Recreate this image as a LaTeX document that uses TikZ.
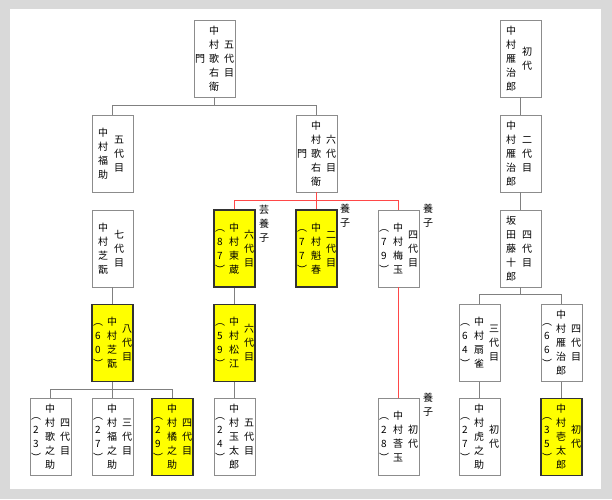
\documentclass[tikz,border=0pt]{standalone}
\usepackage{fontspec}
\setmainfont{Noto Sans CJK JP}
\newcommand\vcol[1]{\begin{tabular}{@{}c@{}}#1\end{tabular}}
\definecolor{bx}{HTML}{8C8C8C}
\definecolor{ln}{HTML}{808080}
\definecolor{rd}{HTML}{FF4848}
\definecolor{yl}{HTML}{FFFF00}
\tikzset{
 box/.style={draw=bx,line width=0.9pt,fill=white,minimum width=41pt,minimum height=77pt,inner sep=0pt},
 yb/.style={fill=yl,draw=black!80,line width=1.1pt},
 col/.style={inner sep=0pt,font=\fontsize{10}{14}\selectfont},
 lab/.style={inner sep=0pt,font=\fontsize{10}{14}\selectfont},
 gl/.style={draw=ln,line width=0.9pt},
 rl/.style={draw=rd,line width=0.9pt}}
\newcommand\famnode[7]{%
 \node[box,#4] (#1) at (#2,#3) {};
 \def\tmpp{#7}%
 \ifx\tmpp\empty
  \node[col] (#1n) at ([xshift=-9.5pt,yshift=-1pt]#1.center) {\vcol{#6}};
  \node[col] (#1t) at ([xshift=6.5pt,yshift=-1pt]#1.center) {\vcol{#5}};
 \else
  \node[col] (#1p) at ([xshift=-14.5pt,yshift=-1pt]#1.center) {\vcol{#7}};
  \node[col] (#1n) at ([xshift=-0.5pt,yshift=-1pt]#1.center) {\vcol{#6}};
  \node[col] (#1t) at ([xshift=14.5pt,yshift=-1pt]#1.center) {\vcol{#5}};
 \fi}
\begin{document}
\begin{tikzpicture}[x=1pt,y=-1pt]
\fill[black!15] (0,0) rectangle (612,499);
\fill[white] (10,9) rectangle (601,489);
\useasboundingbox (0,0) rectangle (612,499);
\def\ra{58.5}\def\rb{153.5}\def\rc{248.5}\def\rd{343}\def\re{437}
\famnode{t5}{214.5}{\ra}{}{五\\代\\目}{中\\村\\歌\\右\\衛}{門}
\famnode{g1}{520.5}{\ra}{}{初\\代}{中\\村\\雁\\治\\郎}{}
\famnode{f5}{112.5}{\rb}{}{五\\代\\目}{中\\村\\福\\助}{}
\famnode{u6}{316.5}{\rb}{}{六\\代\\目}{中\\村\\歌\\右\\衛}{門}
\famnode{g2}{520.5}{\rb}{}{二\\代\\目}{中\\村\\雁\\治\\郎}{}
\famnode{s7}{112.5}{\rc}{}{七\\代\\目}{中\\村\\芝\\翫}{}
\famnode{t6}{234.5}{\rc}{yb}{六\\代\\目}{中\\村\\東\\蔵}{︵\\8\\7\\︶}
\famnode{k2}{316.5}{\rc}{yb}{二\\代\\目}{中\\村\\魁\\春}{︵\\7\\7\\︶}
\famnode{b4}{398.5}{\rc}{}{四\\代\\目}{中\\村\\梅\\玉}{︵\\7\\9\\︶}
\famnode{tj}{520.5}{\rc}{}{四\\代\\目}{坂\\田\\藤\\十\\郎}{}
\famnode{s8}{112.5}{\rd}{yb}{八\\代\\目}{中\\村\\芝\\翫}{︵\\6\\0\\︶}
\famnode{m6}{234.5}{\rd}{yb}{六\\代\\目}{中\\村\\松\\江}{︵\\5\\9\\︶}
\famnode{se}{479.5}{\rd}{}{三\\代\\目}{中\\村\\扇\\雀}{︵\\6\\4\\︶}
\famnode{g4}{561.5}{\rd}{}{四\\代\\目}{中\\村\\雁\\治\\郎}{︵\\6\\6\\︶}
\famnode{u4}{50.5}{\re}{}{四\\代\\目}{中\\村\\歌\\之\\助}{︵\\2\\3\\︶}
\famnode{fk}{112.5}{\re}{}{三\\代\\目}{中\\村\\福\\之\\助}{︵\\2\\7\\︶}
\famnode{kt}{172.5}{\re}{yb}{四\\代\\目}{中\\村\\橘\\之\\助}{︵\\2\\9\\︶}
\famnode{tm}{234.5}{\re}{}{五\\代\\目}{中\\村\\玉\\太\\郎}{︵\\2\\4\\︶}
\famnode{kd}{398.5}{\re}{}{初\\代}{中\\村\\莟\\玉}{︵\\2\\8\\︶}
\famnode{tr}{479.5}{\re}{}{初\\代}{中\\村\\虎\\之\\助}{︵\\2\\7\\︶}
\famnode{ka}{561.5}{\re}{yb}{初\\代}{中\\村\\壱\\太\\郎}{︵\\3\\5\\︶}
% connectors
\draw[gl] (t5.south) -- ++(0,9);
\draw[gl] (f5.north) -- ++(0,-9) -| (u6.north);
\draw[rl] (u6.south) -- (k2.north);
\draw[rl] (t6.north) -- ++(0,-9) -| (b4.north);
\draw[gl] (s7.south) -- (s8.north);
\draw[gl] (t6.south) -- (m6.north);
\draw[rl] (b4.south) -- (kd.north);
\draw[gl] (s8.south) -- (fk.north);
\draw[gl] (u4.north) -- ++(0,-9) -| (kt.north);
\draw[gl] (m6.south) -- (tm.north);
\draw[gl] (g1.south) -- (g2.north);
\draw[gl] (g2.south) -- (tj.north);
\draw[gl] (tj.south) -- ++(0,8);
\draw[gl] (se.north) -- ++(0,-10) -| (g4.north);
\draw[gl] (se.south) -- (tr.north);
\draw[gl] (g4.south) -- (ka.north);
% labels
\node[lab] (l1) at (264,225) {\vcol{芸\\養\\子}};
\node[lab] (l2) at (345,217) {\vcol{養\\子}};
\node[lab] (l3) at (428,217) {\vcol{養\\子}};
\node[lab] (l4) at (428,406) {\vcol{養\\子}};
\end{tikzpicture}
\end{document}
